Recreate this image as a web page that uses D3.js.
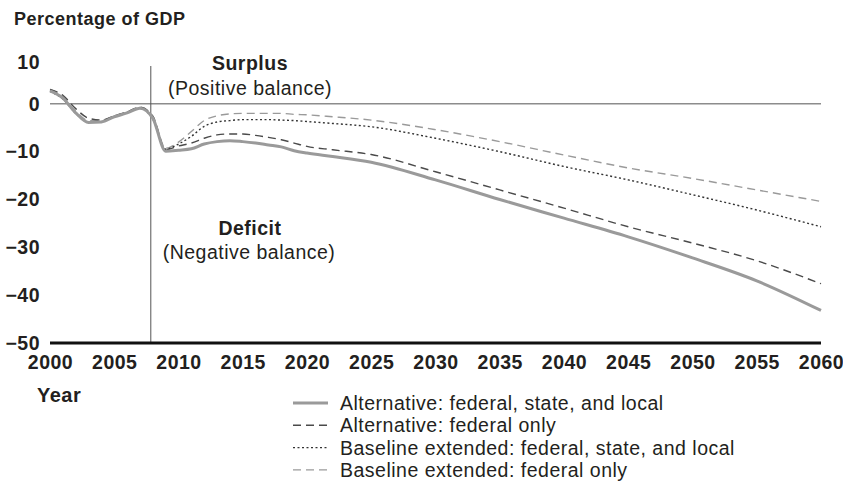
<!DOCTYPE html>
<html>
<head>
<meta charset="utf-8">
<script src="https://cdn.jsdelivr.net/npm/d3@7"></script>
<style>
  body { margin: 0; background: #fff; }
  svg text { font-family: "Liberation Sans", Arial, Helvetica, sans-serif; fill: #231f20; }
</style>
</head>
<body>
<div id="chart"></div>
<script>
// chart data
var years = [2000,2001,2002,2003,2004,2005,2006,2007,2008,2009,2010,2011,2012,2013,2014,2015,2016,2017,2018,2019,2020,2022,2025,2030,2035,2040,2045,2050,2055,2060];

var altFSL = [2.7,1.2,-1.9,-3.9,-3.8,-2.7,-1.9,-0.9,-3.0,-9.9,-9.7,-9.4,-8.4,-7.9,-7.7,-7.9,-8.2,-8.6,-9.0,-9.8,-10.3,-11.0,-12.2,-15.9,-20.0,-23.9,-27.8,-32.2,-37.0,-43.2];
var altFed = [3.0,1.8,-1.0,-3.0,-3.4,-2.5,-1.7,-0.7,-2.6,-9.6,-8.8,-8.2,-7.2,-6.5,-6.3,-6.3,-6.6,-7.0,-7.5,-8.2,-8.9,-9.6,-10.6,-14.2,-18.0,-21.8,-25.7,-29.1,-32.8,-37.6];
var baseFSL = [2.6,1.0,-2.0,-3.8,-3.7,-2.6,-1.8,-0.9,-3.2,-9.5,-8.4,-6.8,-4.7,-3.8,-3.5,-3.3,-3.3,-3.3,-3.4,-3.5,-3.7,-4.1,-4.8,-7.2,-10.0,-13.1,-15.9,-19.0,-22.2,-25.7];
var baseFed = [3.0,1.5,-1.5,-3.5,-3.5,-2.5,-1.7,-0.7,-2.6,-9.3,-8.0,-5.8,-3.5,-2.5,-2.1,-2.0,-2.0,-2.0,-2.0,-2.2,-2.3,-2.7,-3.4,-5.4,-7.9,-10.7,-13.4,-15.6,-18.0,-20.4];

var seriesNames = ["Alternative: federal, state, and local", "Alternative: federal only", "Baseline extended: federal, state, and local", "Baseline extended: federal only"];
var xTicks = [2000,2005,2010,2015,2020,2025,2030,2035,2040,2045,2050,2055,2060];
var yTicks = [10,0,-10,-20,-30,-40,-50];
var splitYear = 2008;

var W = 843, H = 488;
var FS = "19.5px", LS = "0.5px";

var svg = d3.select("#chart").append("svg")
  .attr("width", W).attr("height", H);

var x = d3.scaleLinear().domain([2000, 2060]).range([50, 821]);
var y = d3.scaleLinear().domain([-50, 10]).range([343, 56]);

// styles for each series
var styles = [
  {stroke: "#9a9a9a", width: 3,   dash: null},
  {stroke: "#4a4a4a", width: 1.4, dash: "8,5"},
  {stroke: "#333",    width: 1.4, dash: "2,2.5"},
  {stroke: "#9a9a9a", width: 1.4, dash: "8,5"}
];
var allSeries = [altFSL, altFed, baseFSL, baseFed];

function txt(xp, yp, s, bold, anchor){
  return svg.append("text").attr("x", xp).attr("y", yp)
    .attr("text-anchor", anchor || "start")
    .style("font-size", FS).style("letter-spacing", LS)
    .style("font-weight", bold ? "bold" : "normal")
    .text(s);
}

// title
txt(14, 25, "Percentage of GDP", true).style("font-size", "18px");

// zero line
svg.append("line")
  .attr("x1", x(2000)).attr("x2", x(2060))
  .attr("y1", y(0)).attr("y2", y(0))
  .attr("stroke", "#8c8c8c").attr("stroke-width", 1.5);

// 2008 divider
svg.append("line")
  .attr("x1", x(splitYear) - 2).attr("x2", x(splitYear) - 2)
  .attr("y1", 66).attr("y2", y(-50))
  .attr("stroke", "#555").attr("stroke-width", 1);

// y axis labels
var yAxis = svg.append("g")
  .attr("transform", "translate(40,0)")
  .call(d3.axisLeft(y).tickValues(yTicks).tickSize(0).tickPadding(0));
yAxis.select(".domain").remove();
yAxis.selectAll("text")
  .style("font-size", FS).style("font-weight", "bold").style("letter-spacing", LS)
  .style("font-family", "'Liberation Sans', Arial, sans-serif").attr("fill", "#231f20");
// top label sits a bit lower in the original
yAxis.selectAll(".tick").filter(function(d){ return d === 10; })
  .select("text").attr("y", 6);

// x axis
var xAxis = svg.append("g")
  .attr("transform", "translate(0," + y(-50) + ")")
  .call(d3.axisBottom(x).tickValues(xTicks).tickSize(0).tickPadding(12).tickFormat(d3.format("d")));
xAxis.select(".domain").remove();
xAxis.selectAll("text")
  .style("font-size", FS).style("font-weight", "bold").style("letter-spacing", LS)
  .style("font-family", "'Liberation Sans', Arial, sans-serif").attr("fill", "#231f20");

svg.append("line")
  .attr("x1", x(2000)).attr("x2", x(2060))
  .attr("y1", y(-50)).attr("y2", y(-50))
  .attr("stroke", "#111").attr("stroke-width", 3);

txt(37, 402, "Year", true).style("font-size", "20px");

// annotations
txt(250, 70, "Surplus", true, "middle");
txt(250, 95, "(Positive balance)", false, "middle");
txt(250, 235, "Deficit", true, "middle");
txt(249, 259, "(Negative balance)", false, "middle");

// lines, the thick grey one last so it sits on top
var line = d3.line()
  .x(function(d){ return x(d[0]); })
  .y(function(d){ return y(d[1]); })
  .curve(d3.curveMonotoneX);

[3,2,1,0].forEach(function(i){
  var pts = years.map(function(yr, j){ return [yr, allSeries[i][j]]; });
  svg.append("path")
    .datum(pts)
    .attr("d", line)
    .attr("fill", "none")
    .attr("stroke", styles[i].stroke)
    .attr("stroke-width", styles[i].width)
    .attr("stroke-dasharray", styles[i].dash)
    .attr("stroke-linejoin", "round");
});

// legend
seriesNames.forEach(function(name, i){
  var ly = 403 + i * 22.3;
  svg.append("line")
    .attr("x1", 293).attr("x2", 328)
    .attr("y1", ly).attr("y2", ly)
    .attr("stroke", styles[i].stroke)
    .attr("stroke-width", styles[i].width)
    .attr("stroke-dasharray", styles[i].dash);
  txt(340, ly + 7, name, false);
});
</script>
</body>
</html>
